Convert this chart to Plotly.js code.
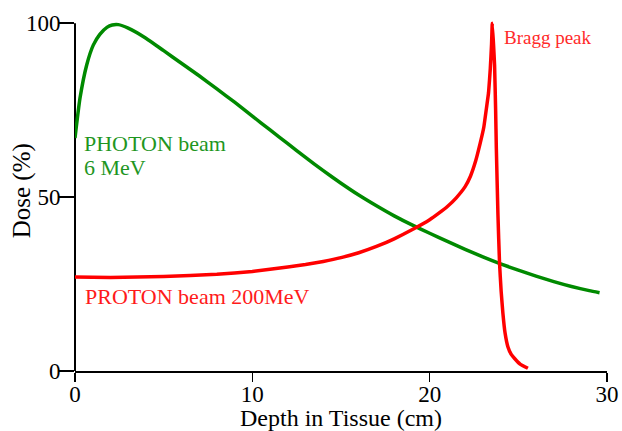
<!DOCTYPE html>
<html>
<head>
<meta charset="utf-8">
<script src="https://cdn.plot.ly/plotly-3.0.1.min.js"></script>
<style>html,body{margin:0;padding:0;background:#fff;}#chart{width:622px;height:431px;}</style>
</head>
<body>
<div id="chart"></div>
<script>
// Photon beam 6 MeV depth-dose (depth cm, dose %)
var photonDepth = [0, 0.28, 0.66, 1.03, 1.4, 1.8, 2.1, 2.44, 3, 4, 5, 6, 7, 8, 9, 10, 11, 12, 13, 14, 15, 16, 17, 18, 19, 20, 21, 22, 23, 24, 25, 26, 27, 28, 29, 29.58];
var photonDose  = [67, 78.4, 88, 93.7, 96.8, 98.8, 99.5, 99.6, 98.6, 95.7, 92.1, 88.5, 84.9, 81.1, 77.3, 73.3, 69.3, 65.4, 61.4, 57.6, 54.0, 50.6, 47.5, 44.6, 42.0, 39.6, 37.3, 35.0, 32.8, 30.8, 29.0, 27.3, 25.7, 24.3, 23.1, 22.5];
// Proton beam 200 MeV depth-dose
var protonDepth = [0, 2, 5, 8, 10, 12, 13, 14, 15, 16, 17, 18, 19, 20, 20.5, 21, 21.5, 22, 22.3, 22.6, 22.85, 23.05, 23.2, 23.32, 23.42, 23.49, 23.53, 23.6, 23.66, 23.72, 23.76, 23.85, 23.94, 24.03, 24.13, 24.25, 24.41, 24.6, 24.79, 25.1, 25.54];
var protonDose  = [27, 26.9, 27.2, 27.8, 28.6, 29.9, 30.6, 31.5, 32.6, 34.0, 35.8, 38.0, 40.6, 43.5, 45.3, 47.3, 49.8, 53.0, 56, 60.5, 65.5, 70, 75.5, 80, 87, 94, 100, 94, 88, 75, 64, 45, 31, 23, 16.6, 11, 7, 4.8, 3.6, 2, 0.8];

var xTicks = [0, 10, 20, 30];
var yTicks = [0, 50, 100];

var serif = "Liberation Serif, Times New Roman, serif";

var traces = [
  {x: photonDepth, y: photonDose, mode: "lines", type: "scatter",
   line: {color: "#008a00", width: 3.5, shape: "spline", smoothing: 0.5}, hoverinfo: "skip"},
  {x: protonDepth, y: protonDose, mode: "lines", type: "scatter",
   line: {color: "#ff0000", width: 3.5, shape: "spline", smoothing: 0.35}, hoverinfo: "skip"}
];

var layout = {
  width: 622, height: 431,
  margin: {l: 75, r: 14.5, t: 17.8, b: 60},
  paper_bgcolor: "#fff", plot_bgcolor: "#fff",
  showlegend: false,
  font: {family: serif, color: "#000", size: 22},
  xaxis: {
    range: [0, 30], tickvals: xTicks, ticktext: xTicks.map(String),
    showgrid: false, zeroline: false, showline: true, linecolor: "#000", linewidth: 2,
    ticks: "outside", ticklen: 9, tickwidth: 1.5, tickcolor: "#000",
    ticklabelstandoff: -8,
    tickfont: {family: serif, size: 23, color: "#000"},
    title: {text: "Depth in Tissue (cm)", font: {family: serif, size: 24, color: "#000"}, standoff: 0}
  },
  yaxis: {
    range: [0, 101.5], tickvals: yTicks, ticktext: yTicks.map(String),
    showgrid: false, zeroline: false, showline: false,
    ticks: "outside", ticklen: 15, tickwidth: 1.5, tickcolor: "#000",
    ticklabelstandoff: -6,
    tickfont: {family: serif, size: 23, color: "#000"}
  },
  shapes: [
    {type: "line", xref: "paper", x0: 0, x1: 0, yref: "y", y0: 0, y1: 100,
     line: {color: "#000", width: 2}, layer: "below"}
  ],
  annotations: [
    {text: "Dose (%)", xref: "paper", x: -0.0995, yref: "y", y: 51.7, xanchor: "center", yanchor: "middle",
     textangle: -90, showarrow: false, font: {family: serif, size: 25, color: "#000"}},
    {text: "PHOTON beam", x: 0.4, y: 65.5, xref: "x", yref: "y", xanchor: "left", yanchor: "middle",
     showarrow: false, font: {family: serif, size: 22, color: "#1f961f"}},
    {text: "6 MeV", x: 0.4, y: 58.6, xref: "x", yref: "y", xanchor: "left", yanchor: "middle",
     showarrow: false, font: {family: serif, size: 22, color: "#1f961f"}},
    {text: "PROTON beam 200MeV", x: 0.45, y: 21.3, xref: "x", yref: "y", xanchor: "left", yanchor: "middle",
     showarrow: false, font: {family: serif, size: 22, color: "#ff1a1a"}},
    {text: "Bragg peak", x: 24.1, y: 96, xref: "x", yref: "y", xanchor: "left", yanchor: "middle",
     showarrow: false, font: {family: serif, size: 19, color: "#ff2a2a"}}
  ]
};

Plotly.newPlot("chart", traces, layout, {staticPlot: true, displayModeBar: false});
</script>
</body>
</html>
